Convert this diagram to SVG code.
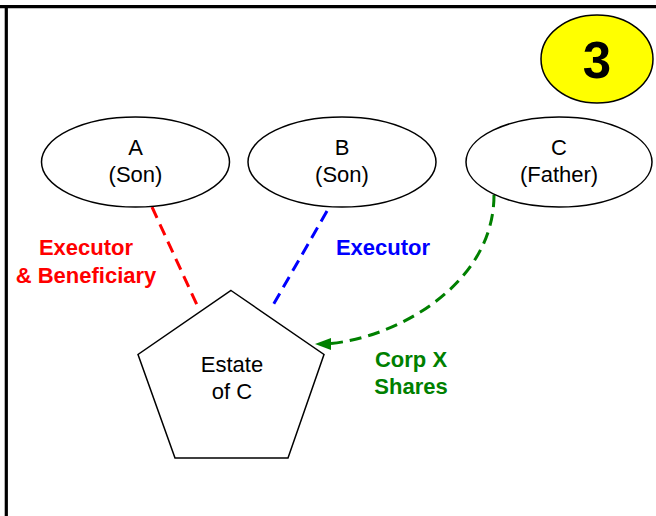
<svg xmlns="http://www.w3.org/2000/svg" width="656" height="516" viewBox="0 0 656 516">
<style>
.node{fill:#fff;stroke:#000;stroke-width:1.5}
.t{font-family:"Liberation Sans",Arial,sans-serif;font-size:22px;text-anchor:middle;fill:#000}
.lbl{font-family:"Liberation Sans",Arial,sans-serif;font-size:22px;font-weight:bold;text-anchor:middle}
.dash{fill:none;stroke-width:3;stroke-dasharray:12,7}
</style>
<rect width="656" height="516" fill="#fff"/>
<g id="frame" stroke="#000" stroke-width="3.2">
<line x1="0" y1="6.7" x2="656" y2="6.7"/>
<line x1="6.3" y1="5" x2="6.3" y2="516"/>
</g>
<g id="badge">
<ellipse cx="597" cy="59" rx="56" ry="44" fill="#ffff00" stroke="#000" stroke-width="1.5"/>
<text x="597" y="78" font-family="'Liberation Sans',Arial,sans-serif" font-size="51" font-weight="bold" text-anchor="middle">3</text>
</g>
<g id="connectors">
<line class="dash" x1="152" y1="207" x2="197" y2="305" stroke="#ff0000"/>
<line class="dash" x1="327" y1="211" x2="272" y2="307" stroke="#0000ff"/>
<path class="dash" d="M494,195 C494,285 395,338 330,343.5" stroke="#008000"/>
<path d="M315,344 L331,338 L331,350 Z" fill="#008000"/>
</g>
<g id="nodeA">
<ellipse class="node" cx="135.5" cy="162" rx="94" ry="45"/>
<text class="t" x="135.5" y="155">A</text>
<text class="t" x="135.5" y="182">(Son)</text>
</g>
<g id="nodeB">
<ellipse class="node" cx="342" cy="162" rx="94" ry="45"/>
<text class="t" x="342" y="155">B</text>
<text class="t" x="342" y="182">(Son)</text>
</g>
<g id="nodeC">
<ellipse class="node" cx="559" cy="162" rx="93" ry="45"/>
<text class="t" x="559" y="155">C</text>
<text class="t" x="559" y="182">(Father)</text>
</g>
<g id="estate">
<polygon class="node" points="231,290.5 324,354.5 288,458 175,458 138,354.5"/>
<text class="t" x="232" y="372">Estate</text>
<text class="t" x="232" y="399">of C</text>
</g>
<g id="labels">
<text class="lbl" x="86" y="255" fill="#ff0000">Executor</text>
<text class="lbl" x="86" y="282.5" fill="#ff0000">&amp; Beneficiary</text>
<text class="lbl" x="383" y="254.5" fill="#0000ff">Executor</text>
<text class="lbl" x="411" y="366.5" fill="#008000">Corp X</text>
<text class="lbl" x="411" y="394" fill="#008000">Shares</text>
</g>
</svg>
